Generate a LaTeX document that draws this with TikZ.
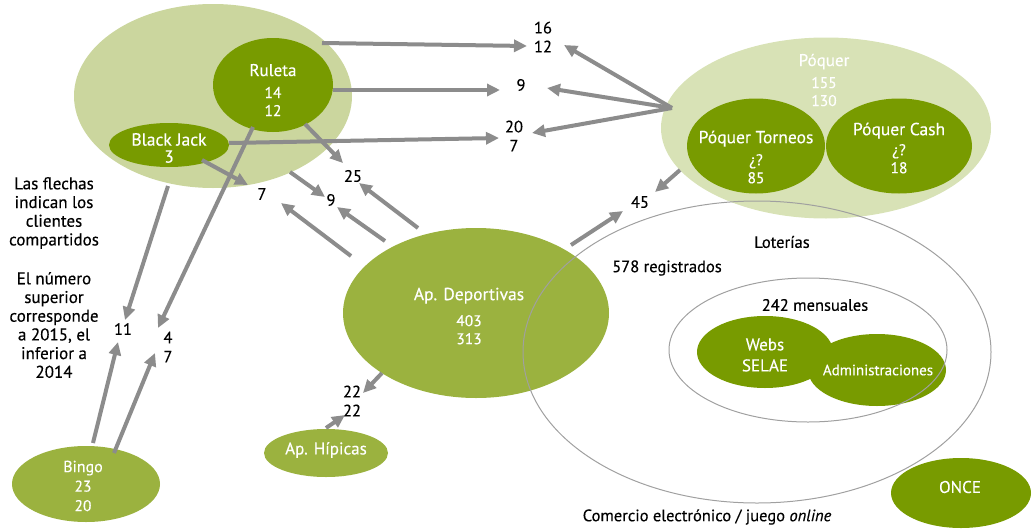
\documentclass[tikz,border=0pt]{standalone}
\usepackage{fontspec}
\setmainfont{PT Sans}[FakeBold=0.35]
\usetikzlibrary{shapes.geometric,arrows.meta}
\definecolor{casino}{HTML}{CBD69E}
\definecolor{poker}{HTML}{D8E2B6}
\definecolor{dark}{HTML}{789B00}
\definecolor{mid}{HTML}{9BB23F}
\definecolor{arr}{HTML}{8C8C8C}
\definecolor{ring}{HTML}{A0A0A0}
\newcommand{\numf}{\fontsize{15.5}{18}\selectfont}
\tikzset{
  ell/.style 2 args={ellipse,inner sep=0pt,minimum width=#1,minimum height=#2},
  wt/.style={text=white,align=center,inner sep=0pt,font=\fontsize{17}{18}\selectfont},
  bt/.style={text=black,align=center,inner sep=0pt,font=\fontsize{16.5}{19}\selectfont},
  arw/.style={draw=arr,line width=4pt,-{Triangle[length=13pt,width=12pt]}},
}
\begin{document}
\begin{tikzpicture}[x=1pt,y=-1pt]
\useasboundingbox (0,0) rectangle (1033,530);
% filled shapes
\node[ell={278pt}{184pt},fill=casino] (casino) at (213,96) {};
\node[ell={120pt}{94pt},fill=dark] (ruleta) at (273,85) {};
\node[ell={120pt}{44pt},fill=dark] (bj) at (169,145) {};
\node[ell={330pt}{181pt},fill=poker] (poquer) at (826,128) {};
\node[ell={138pt}{95pt},fill=dark] (torneos) at (756,146) {};
\node[ell={146pt}{95pt},fill=dark] (cash) at (899,146) {};
\node[ell={266pt}{170pt},fill=mid] (dep) at (476,313) {};
\node[ell={124pt}{48pt},fill=mid] (hip) at (326,453) {};
\node[ell={148pt}{76pt},fill=mid] (bingo) at (86,484) {};
\node[ell={136pt}{72pt},fill=dark] (webs) at (765,352) {};
\node[ell={138pt}{72pt},fill=dark] (admin) at (877,370) {};
\node[ell={140pt}{70pt},fill=dark] (once) at (961,493) {};
% outline ellipses
\node[ell={468pt}{302pt},draw=ring,line width=1pt] (comercio) at (757,352) {};
\node[ell={278pt}{144pt},draw=ring,line width=1pt] (mens) at (808,350) {};
% texts in shapes
\node[wt] (truleta) at (273,90) {Ruleta\\[4pt]{\numf 14}\\{\numf 12}};
\node[wt,font=\fontsize{17.5}{17}\selectfont] (tbj) at (169,148) {Black Jack\\3};
\node[wt] (tpoq) at (824,80) {Póquer\\[4pt]{\numf 155}\\{\numf 130}};
\node[wt,font=\fontsize{17.5}{18}\selectfont] (ttor) at (756,157) {Póquer Torneos\\[4pt]{\numf ¿?}\\{\numf 85}};
\node[wt,font=\fontsize{17.5}{18}\selectfont] (tcash) at (899,148) {Póquer Cash\\[2pt]{\numf ¿?}\\{\numf 18}};
\node[wt,font=\fontsize{17.5}{18}\selectfont] (tdep) at (469,316) {Ap. Deportivas\\[8pt]{\numf 403}\\{\numf 313}};
\node[wt] (thip) at (326,450) {Ap. Hípicas};
\node[wt,font=\fontsize{16}{19.5}\selectfont] (tbingo) at (83,486) {Bingo\\{\numf 23}\\{\numf 20}};
\node[wt,font=\fontsize{17}{21}\selectfont] (twebs) at (765,355) {Webs\\SELAE};
\node[wt,font=\fontsize{15}{15}\selectfont] (tadmin) at (878,370) {Administraciones};
\node[wt,font=\fontsize{17}{18}\selectfont] (tonce) at (960,487) {ONCE};
% black texts
\node[bt,font=\fontsize{17}{18.7}\selectfont] (leg1) at (54,213) {Las flechas\\indican los\\clientes\\compartidos};
\node[bt,font=\fontsize{17}{18.7}\selectfont] (leg2) at (54,325) {El número\\superior\\corresponde\\a 2015, el\\inferior a\\2014};
\node[bt] (l1612) at (543,37) {16\\12};
\node[bt] (l9a) at (521,85) {9};
\node[bt] (l207) at (514,136) {20\\7};
\node[bt] (l25) at (353,176) {25};
\node[bt] (l9b) at (331,200) {9};
\node[bt] (l7) at (262,194) {7};
\node[bt] (l11) at (123,329) {11};
\node[bt] (l47) at (168,347) {4\\7};
\node[bt] (l22) at (352,401) {22\\22};
\node[bt] (l45) at (640,202) {45};
\node[bt] (lot) at (782,242) {Loterías};
\node[bt] (reg) at (667,268) {578 registrados};
\node[bt] (men) at (815,305) {242 mensuales};
\node[bt] (com) at (707,517) {Comercio electrónico / juego \textit{online}};
% arrow ends
\coordinate (a1s) at (322,43);  \coordinate (a1e) at (527,46);
\coordinate (a2s) at (333,90);  \coordinate (a2e) at (500,90);
\coordinate (a3s) at (229,143); \coordinate (a3e) at (499,138);
\coordinate (pf) at (672,108);
\coordinate (a4e) at (564,45);
\coordinate (a5e) at (547,88);
\coordinate (a6e) at (532,133);
\coordinate (a7s) at (305,124); \coordinate (a7e) at (343,163);
\coordinate (a8s) at (202,160); \coordinate (a8e) at (248,185);
\coordinate (a9s) at (290,172); \coordinate (a9e) at (325,197);
\coordinate (a10s) at (351,256); \coordinate (a10e) at (281,203);
\coordinate (a11s) at (385,241); \coordinate (a11e) at (337,207);
\coordinate (a12s) at (418,228); \coordinate (a12e) at (359,183);
\coordinate (a13s) at (571,245); \coordinate (a13e) at (623,211);
\coordinate (a14s) at (680,170); \coordinate (a14e) at (655,192);
\coordinate (a15s) at (168,186); \coordinate (a15e) at (125,320);
\coordinate (a16s) at (253,127); \coordinate (a16e) at (158,328);
\coordinate (a17s) at (93,443);  \coordinate (a17e) at (118,342);
\coordinate (a18s) at (114,453); \coordinate (a18e) at (155,353);
\coordinate (a19s) at (382,373); \coordinate (a19e) at (363,393);
\coordinate (a20s) at (326,428); \coordinate (a20e) at (345,415);
% arrows
\draw[arw] (a1s) -- (a1e);
\draw[arw] (a2s) -- (a2e);
\draw[arw] (a3s) -- (a3e);
\draw[arw] (pf) -- (a4e);
\draw[arw] (pf) -- (a5e);
\draw[arw] (pf) -- (a6e);
\draw[arw] (a7s) -- (a7e);
\draw[arw] (a8s) -- (a8e);
\draw[arw] (a9s) -- (a9e);
\draw[arw] (a10s) -- (a10e);
\draw[arw] (a11s) -- (a11e);
\draw[arw] (a12s) -- (a12e);
\draw[arw] (a13s) -- (a13e);
\draw[arw] (a14s) -- (a14e);
\draw[arw] (a15s) -- (a15e);
\draw[arw] (a16s) -- (a16e);
\draw[arw] (a17s) -- (a17e);
\draw[arw] (a18s) -- (a18e);
\draw[arw] (a19s) -- (a19e);
\draw[arw] (a20s) -- (a20e);
\end{tikzpicture}
\end{document}
